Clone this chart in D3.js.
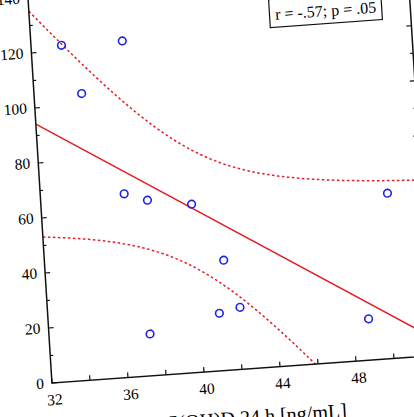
<!DOCTYPE html>
<html>
<head>
<meta charset="utf-8">
<script src="https://cdn.jsdelivr.net/npm/d3@7"></script>
<style>
  body { margin: 0; background: #fff; }
  svg { display: block; }
  text { font-family: 'Liberation Serif', 'DejaVu Serif', serif; fill: #000; }
</style>
</head>
<body>
<script>
// measured points (x = 25(OH)D, y = response)
const xVals = [33.6, 36.8, 34.5, 36.4, 37.6, 39.9, 41.4, 41.0, 42.1, 37.3, 48.8, 50.2]
const yVals = [122, 122, 104, 66.6, 63.7, 61.1, 40, 20.9, 22.5, 15.2, 15, 60]

const xTicks = [32, 36, 40, 44, 48, 52]
const yTicks = [0, 20, 40, 60, 80, 100, 120, 140]
const statLabel = 'r = -.57; p = .05'
const xLabel = '25(OH)D 24 h [ng/mL]'

let width = 414
let height = 417

// plot size in the flat frame
let W = 380
let H = 385

let svg = d3.select('body').append('svg')
  .attr('width', width)
  .attr('height', height)

// the reference is a slightly tilted photo, so skew the flat frame
let g = svg.append('g')
  .attr('transform', 'matrix(1,-0.0717,0.0622,1,28,-2)')

let x = d3.scaleLinear().domain([32, 52]).range([0, W])
let y = d3.scaleLinear().domain([0, 140]).range([H, 0])

g.append('clipPath').attr('id', 'plot')
  .append('rect')
  .attr('width', W)
  .attr('height', H)

// regression + 95% confidence band
let n = xVals.length
let mx = d3.mean(xVals)
let my = d3.mean(yVals)
let sxx = d3.sum(xVals, d => (d - mx) * (d - mx))
let sxy = d3.sum(xVals, (d, i) => (d - mx) * (yVals[i] - my))
let slope = sxy / sxx
let icpt = my - slope * mx
let sse = d3.sum(xVals, (d, i) => Math.pow(yVals[i] - (icpt + slope * d), 2))
let s = Math.sqrt(sse / (n - 2))
let tcrit = 2.228

let fit = xv => icpt + slope * xv
let half = xv => tcrit * s * Math.sqrt(1 / n + (xv - mx) * (xv - mx) / sxx)

let grid = d3.range(32, 52.01, 0.25)

let line = d3.line()
  .x(d => x(d[0]))
  .y(d => y(d[1]))

let curves = g.append('g').attr('clip-path', 'url(#plot)')

curves.append('path')
  .attr('d', line(x.domain().map(d => [d, fit(d)])))
  .attr('fill', 'none')
  .attr('stroke', '#e41e26')
  .attr('stroke-width', 1.5)

curves.selectAll('.band')
  .data([1, -1])
  .enter().append('path')
  .attr('class', 'band')
  .attr('d', k => line(grid.map(d => [d, fit(d) + k * half(d)])))
  .attr('fill', 'none')
  .attr('stroke', '#e41e26')
  .attr('stroke-width', 1.5)
  .attr('stroke-dasharray', '2.5,2.5')

g.selectAll('.pt')
  .data(xVals)
  .enter().append('circle')
  .attr('class', 'pt')
  .attr('cx', d => x(d))
  .attr('cy', (d, i) => y(yVals[i]))
  .attr('r', 3.8)
  .attr('fill', 'none')
  .attr('stroke', '#1f22e6')
  .attr('stroke-width', 1.6)

// frame
g.append('rect')
  .attr('width', W)
  .attr('height', H)
  .attr('fill', 'none')
  .attr('stroke', '#111')
  .attr('stroke-width', 1.5)

// ticks pointing inwards
g.selectAll('.xt')
  .data(d3.range(32, 52.1, 2))
  .enter().append('line')
  .attr('x1', d => x(d))
  .attr('x2', d => x(d))
  .attr('y1', H)
  .attr('y2', H - 5)
  .attr('stroke', '#111')
  .attr('stroke-width', 1.2)

g.selectAll('.yt')
  .data(d3.range(0, 140.1, 10))
  .enter().append('line')
  .attr('x1', 0)
  .attr('x2', d => d % 20 ? 3 : 5)
  .attr('y1', d => y(d))
  .attr('y2', d => y(d))
  .attr('stroke', '#111')
  .attr('stroke-width', 1.2)

g.selectAll('.yr')
  .data(d3.range(0, 140.1, 10))
  .enter().append('line')
  .attr('x1', W)
  .attr('x2', d => W - (d % 20 ? 3 : 5))
  .attr('y1', d => y(d))
  .attr('y2', d => y(d))
  .attr('stroke', '#111')
  .attr('stroke-width', 1.2)

g.selectAll('.xl')
  .data(xTicks)
  .enter().append('text')
  .attr('x', d => x(d) + 2)
  .attr('y', H + 22)
  .attr('text-anchor', 'middle')
  .style('font-size', '15.5px')
  .text(d => d)

g.selectAll('.yl')
  .data(yTicks)
  .enter().append('text')
  .attr('x', -8)
  .attr('y', d => y(d) + 5)
  .attr('text-anchor', 'end')
  .style('font-size', '15.5px')
  .text(d => d)

g.append('text')
  .attr('x', x(42.4))
  .attr('y', H + 55)
  .attr('text-anchor', 'middle')
  .style('font-size', '20px')
  .text(xLabel)

// stats box
let bx0 = x(44.6)
let bx1 = x(50.5)
let by1 = y(123)
g.append('rect')
  .attr('x', bx0)
  .attr('y', by1 - 28)
  .attr('width', bx1 - bx0)
  .attr('height', 28)
  .attr('fill', '#fff')
  .attr('stroke', '#111')
  .attr('stroke-width', 1.2)

g.append('text')
  .attr('x', (bx0 + bx1) / 2)
  .attr('y', y(125.7))
  .attr('text-anchor', 'middle')
  .style('font-size', '16px')
  .text(statLabel)
</script>
</body>
</html>
